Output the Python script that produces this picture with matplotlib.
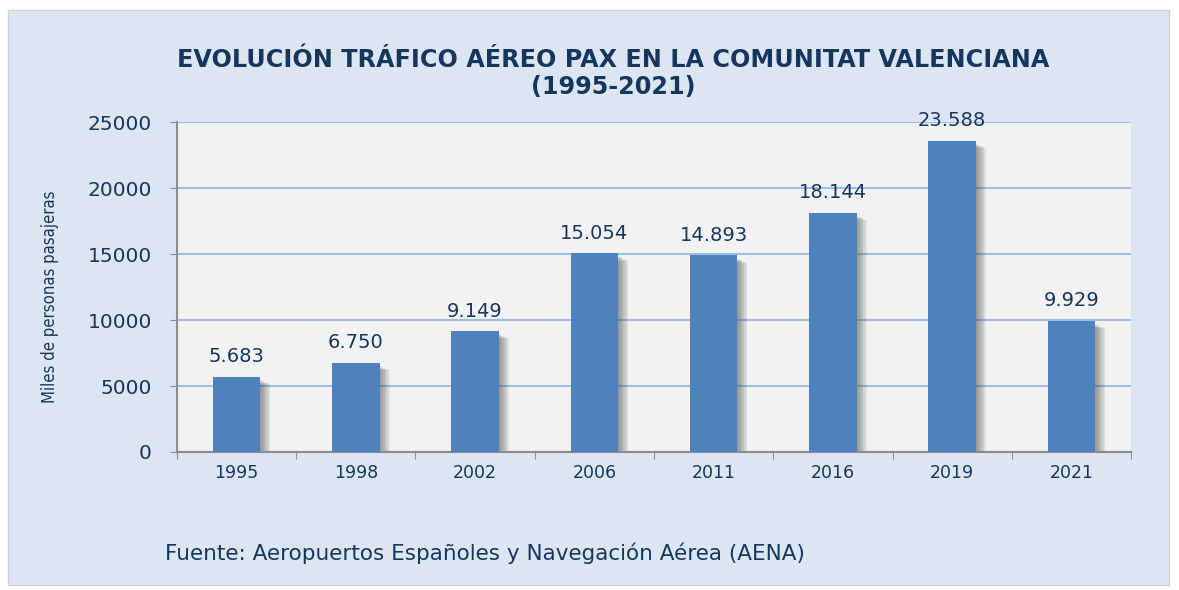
import numpy as np
import matplotlib.pyplot as plt
from matplotlib.patches import Rectangle

years = ["1995", "1998", "2002", "2006", "2011", "2016", "2019", "2021"]
pax = [5683, 6750, 9149, 15054, 14893, 18144, 23588, 9929]
labels = ["5.683", "6.750", "9.149", "15.054", "14.893", "18.144", "23.588", "9.929"]
yticks = [0, 5000, 10000, 15000, 20000, 25000]

navy = "#17365d"

fig = plt.figure(figsize=(11.79, 5.90), dpi=100)
fig.patch.set_facecolor("white")

# light blue chart panel behind everything
bg = fig.add_axes([0, 0, 1, 1], zorder=-10)
bg.axis("off")
bg.set_xlim(0, 1)
bg.set_ylim(0, 1)
bg.add_patch(Rectangle((0.0068, 0.0085), 0.985, 0.975, facecolor="#dce6f2",
                       edgecolor="#d0d0d0", lw=1))

ax = fig.add_axes([0.1501, 0.2339, 0.8092, 0.5593])
ax.set_facecolor("#f2f2f2")

x = np.arange(len(years))
w = 0.40
# soft shadow to the right of the bars
for k in range(6):
    off = 0.014 * (k + 1)
    ax.bar(x + off, np.array(pax) - 250 - 60 * k, width=w, bottom=0, color="#303030",
           alpha=0.09, zorder=2, lw=0)
ax.bar(x, pax, width=w, color="#4f81bd", zorder=3, lw=0)

for xi, v, s in zip(x, pax, labels):
    ax.text(xi, v + 800, s, ha="center", va="bottom", fontsize=14, color=navy,
            family="DejaVu Sans")

ax.set_xlim(-0.5, len(years) - 0.5)
ax.set_ylim(0, 25000)
ax.set_yticks(yticks)
ax.set_yticklabels([str(t) for t in yticks], fontsize=14.5, color=navy)
ax.set_xticks(np.arange(len(years) + 1) - 0.5, minor=False)
ax.set_xticklabels([])
ax.set_xticks(x, minor=True)
ax.set_xticklabels(years, minor=True, fontsize=12.5, color=navy)
ax.tick_params(axis="x", which="minor", length=0, pad=9)
ax.tick_params(axis="x", which="major", length=5, color="#8c8c8c", direction="out")
ax.tick_params(axis="y", length=5, color="#8c8c8c", direction="out", pad=13)

ax.yaxis.grid(True, color="#9dbfe3", lw=1.5, zorder=1)
ax.set_axisbelow(True)
for side in ["top", "right"]:
    ax.spines[side].set_visible(False)
for side in ["left", "bottom"]:
    ax.spines[side].set_color("#8c8c8c")
    ax.spines[side].set_linewidth(1.5)

ax.set_ylabel("Miles de personas pasajeras", fontsize=12, color=navy,
              family="DejaVu Sans", fontstretch="condensed")
ax.yaxis.set_label_coords(-0.124, 0.47)

fig.text(0.52, 0.898, "EVOLUCIÓN TRÁFICO AÉREO PAX EN LA COMUNITAT VALENCIANA",
         ha="center", va="center", fontsize=17.2, fontweight="bold", color=navy,
         family="DejaVu Sans")
fig.text(0.52, 0.852, "(1995-2021)", ha="center", va="center", fontsize=17.2,
         fontweight="bold", color=navy, family="DejaVu Sans")

fig.text(0.14, 0.062, "Fuente: Aeropuertos Españoles y Navegación Aérea (AENA)",
         ha="left", va="center", fontsize=15.5, color=navy, family="DejaVu Sans")

fig.savefig("out.png", dpi=100)
